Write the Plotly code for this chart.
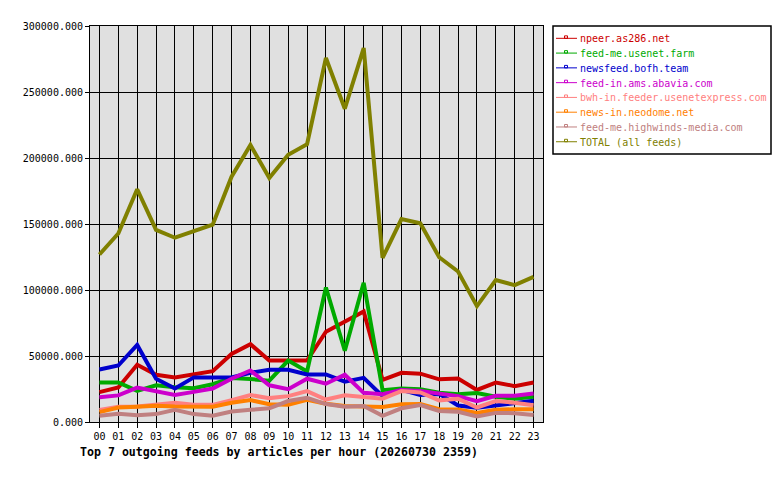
import plotly.graph_objects as go

hours = ["%02d" % h for h in range(24)]

feed_names = [
    "npeer.as286.net",
    "feed-me.usenet.farm",
    "newsfeed.bofh.team",
    "feed-in.ams.abavia.com",
    "bwh-in.feeder.usenetexpress.com",
    "news-in.neodome.net",
    "feed-me.highwinds-media.com",
    "TOTAL (all feeds)",
]

npeer = [22600, 26100, 43300, 35800, 33800, 35800, 38500, 51500, 59000, 46500, 46500, 46500,
         68400, 76300, 83800, 32000, 37300, 36600, 32300, 33000, 24300, 29900, 27200, 29900]
usenet_farm = [29900, 29900, 23600, 27800, 26300, 25600, 28600, 33300, 32500, 31300, 46500, 38300,
               101900, 54000, 105500, 24100, 25400, 24900, 22100, 21100, 22000, 19100, 17600, 19100]
bofh = [39800, 42800, 58400, 32800, 25400, 33800, 33800, 33800, 37300, 39600, 39600, 36000,
        36000, 30500, 33400, 19600, 24300, 20400, 21300, 12500, 10800, 12700, 14500, 16100]
abavia = [18700, 20150, 26100, 23600, 20400, 22800, 25400, 32800, 39000, 27800, 24900, 32800,
          29000, 35800, 22100, 21000, 24300, 23500, 21300, 19600, 15800, 19900, 19900, 21600]
usenetexpress = [9200, 11600, 11800, 12900, 14600, 13100, 13000, 16600, 20400, 18100, 19600, 23400,
                 17000, 20200, 18600, 17700, 23400, 22400, 16400, 17600, 11000, 15900, 14600, 12700]
neodome = [7500, 10900, 11600, 12400, 11800, 11600, 11600, 14600, 16600, 13400, 13000, 16800,
           13800, 12200, 11600, 11300, 13400, 13600, 9700, 9400, 6900, 9300, 9700, 9700]
highwinds = [4700, 6200, 5200, 6000, 9200, 6000, 4700, 7900, 9200, 10400, 15900, 18300,
             13600, 11600, 12200, 4700, 10400, 12900, 8400, 7800, 4200, 6900, 6700, 5300]
total = [126900, 142800, 176300, 145500, 139600, 144500, 149500, 185800, 209900, 184800, 202500, 210500,
         275800, 237300, 283300, 124300, 153700, 150500, 124800, 114000, 87800, 107500, 103700, 109900]

series = [npeer, usenet_farm, bofh, abavia, usenetexpress, neodome, highwinds, total]
colors = ["#cc0000", "#00aa00", "#0000cc", "#cc00cc", "#ff8080", "#ff8000", "#c08080", "#808000"]

OFF = 8  # page body margin
W, H = 780 - OFF, 480 - OFF
L, R, T, B = 90 - OFF, 543 - OFF, 20 - OFF, 422 - OFF
FONT = "DejaVu Sans Mono"

fig = go.Figure()
for name, vals, col in zip(feed_names, series, colors):
    fig.add_trace(go.Scatter(x=hours, y=vals, mode="lines", name=name,
                             line=dict(color=col, width=4), showlegend=False,
                             hoverinfo="x+y+name"))

def px_x(p):
    return (p - OFF - L) / (R - L)

def px_y(p):
    return (B - (p - OFF)) / (B - T)

shapes = []
annotations = []
# legend box
shapes.append(dict(type="rect", xref="paper", yref="paper",
                   x0=px_x(553), x1=px_x(771), y0=px_y(150), y1=px_y(20),
                   line=dict(color="black", width=1.5), fillcolor="white", layer="above"))
for i, (name, col) in enumerate(zip(feed_names, colors)):
    yy = 32.5 + 15 * i
    shapes.append(dict(type="line", xref="paper", yref="paper",
                       x0=px_x(556), x1=px_x(577), y0=px_y(yy), y1=px_y(yy),
                       line=dict(color=col, width=1), layer="above"))
    shapes.append(dict(type="rect", xref="paper", yref="paper",
                       x0=px_x(564.5), x1=px_x(567.5), y0=px_y(yy), y1=px_y(yy - 2.5),
                       line=dict(color=col, width=1), layer="above"))
    annotations.append(dict(xref="paper", yref="paper", x=px_x(578), y=px_y(yy + 0.5),
                            xanchor="left", yanchor="middle", showarrow=False,
                            text=name, font=dict(family=FONT, size=10, color=col)))

fig.update_layout(
    width=W, height=H,
    margin=dict(l=L, r=W - R, t=T, b=H - B),
    paper_bgcolor="white",
    plot_bgcolor="#e0e0e0",
    font=dict(family=FONT, size=10, color="black"),
    showlegend=False,
    shapes=shapes,
    annotations=annotations,
    title=dict(text="<b>Top 7 outgoing feeds by articles per hour (20260730 2359)</b>",
               x=(80 - OFF) / W, xanchor="left", xref="container",
               y=1 - (452 - OFF) / H, yanchor="middle", yref="container",
               font=dict(family=FONT, size=11.6, color="black")),
    xaxis=dict(type="category", range=[-0.5, 23.5], showgrid=True, gridcolor="black", gridwidth=1,
               showline=True, linecolor="black", linewidth=1, mirror=True,
               ticks="outside", ticklen=5, tickcolor="black", tickwidth=1,
               tickfont=dict(family=FONT, size=10, color="black"), fixedrange=True),
    yaxis=dict(range=[0, 300000], tick0=0, dtick=50000, tickformat=".3f",
               showgrid=True, gridcolor="black", gridwidth=1, zeroline=False,
               showline=True, linecolor="black", linewidth=1, mirror=True,
               ticks="outside", ticklen=4, tickcolor="black", tickwidth=1,
               tickfont=dict(family=FONT, size=10, color="black"), fixedrange=True),
)

fig.write_html("out.html")
